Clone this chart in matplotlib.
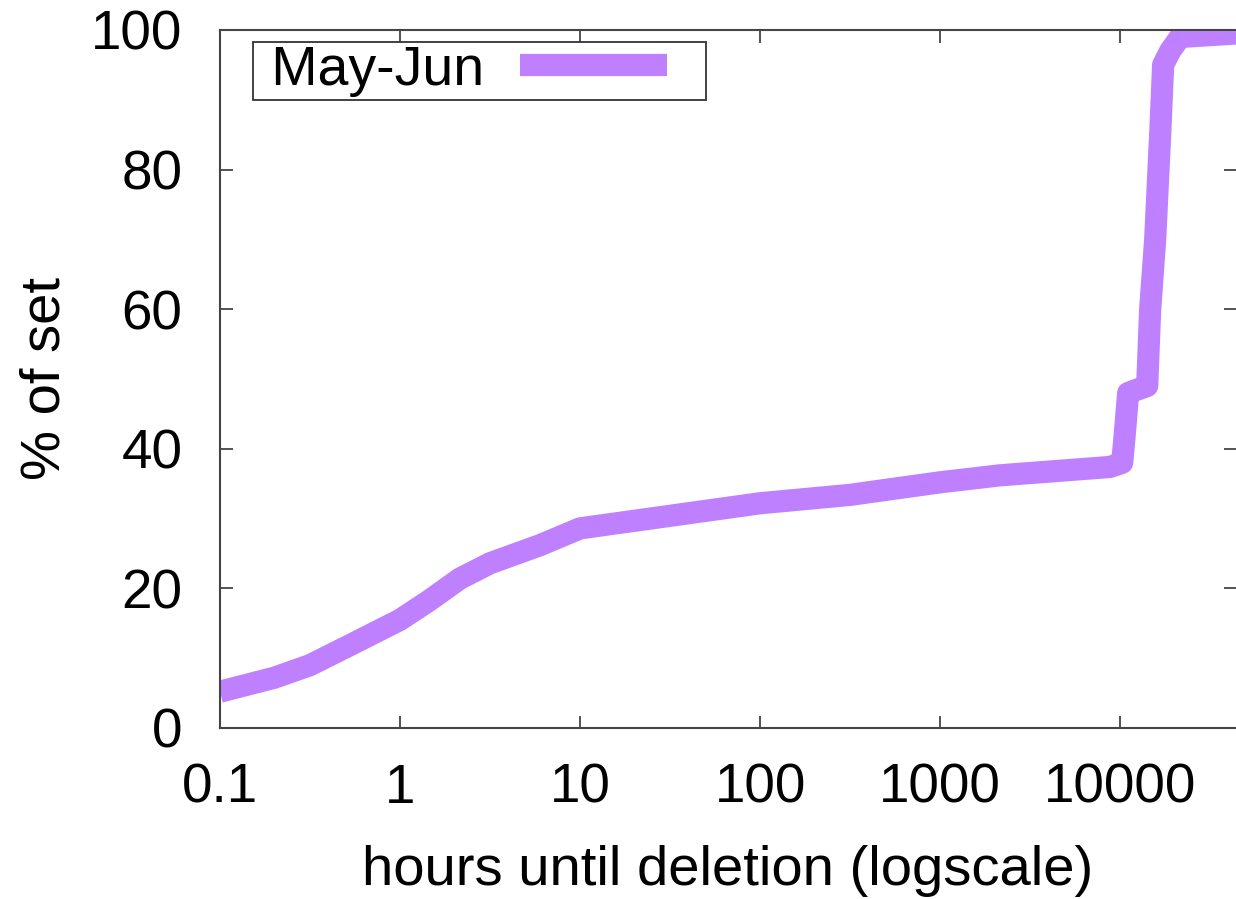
import matplotlib
matplotlib.use("Agg")
import matplotlib.pyplot as plt

# CDF of hours until deletion
hours = [0.1, 0.2, 0.316, 0.53, 1.0, 1.46, 2.15, 3.16, 6.0, 10.0, 24.5,
         46.4, 100, 316, 1000, 2150, 8800, 10260, 10600, 11080, 14130,
         14680, 15650, 16680, 17330, 18960, 21540, 44000]
pct_of_set = [5.2, 7.2, 9.0, 11.9, 15.5, 18.3, 21.4, 23.6, 26.2, 28.6, 30.0,
              31.0, 32.2, 33.4, 35.2, 36.2, 37.4, 38.0, 42.0, 48.0, 49.0,
              60.0, 70.0, 85.0, 95.0, 97.0, 99.0, 99.5]

x_ticks = [0.1, 1, 10, 100, 1000, 10000]
x_tick_labels = ["0.1", "1", "10", "100", "1000", "10000"]
y_ticks = [0, 20, 40, 60, 80, 100]

plt.rcParams["font.family"] = ["Liberation Sans", "DejaVu Sans"]

fig = plt.figure(figsize=(12.36, 8.99), dpi=100)
ax = fig.add_axes([220 / 1236, (899 - 728) / 899, 1 - 220 / 1236, 698 / 899])

ax.plot(hours, pct_of_set, color="#bf80ff", lw=16, label=" May-Jun",
        solid_joinstyle="round", solid_capstyle="butt")

ax.set_xscale("log")
ax.set_xlim(0.1, 44000)
ax.set_ylim(0, 100)
ax.set_xticks(x_ticks)
ax.set_xticklabels(x_tick_labels)
ax.set_yticks(y_ticks)
ax.minorticks_off()
ax.tick_params(direction="in", length=9, width=1.3, color="#444444",
               labelsize=39.5, top=True, right=True)
ax.tick_params(axis="y", pad=27)
ax.tick_params(axis="x", pad=25)

for s in ax.spines.values():
    s.set_color("#444444")
    s.set_linewidth(1.5)
ax.spines["right"].set_visible(False)

ax.set_xlabel("hours until deletion (logscale)", fontsize=40.5, labelpad=22)
ax.set_ylabel("% of set", fontsize=40.5, labelpad=14)

# legend box spans ~253..706 px wide, text left, sample right (gnuplot style)
leg = ax.legend(loc="upper left",
                bbox_to_anchor=(33 / 1016, 0, 453 / 1016, 1 - 12 / 698),
                mode="expand", borderaxespad=0, fontsize=40,
                markerfirst=False, handlelength=2.65, handletextpad=0.65,
                borderpad=0.05, fancybox=False, framealpha=1)
leg.get_frame().set_edgecolor("#333333")
leg.get_frame().set_linewidth(1.3)
leg.get_lines()[0].set_linewidth(16)

fig.savefig("out.png", dpi=100)
